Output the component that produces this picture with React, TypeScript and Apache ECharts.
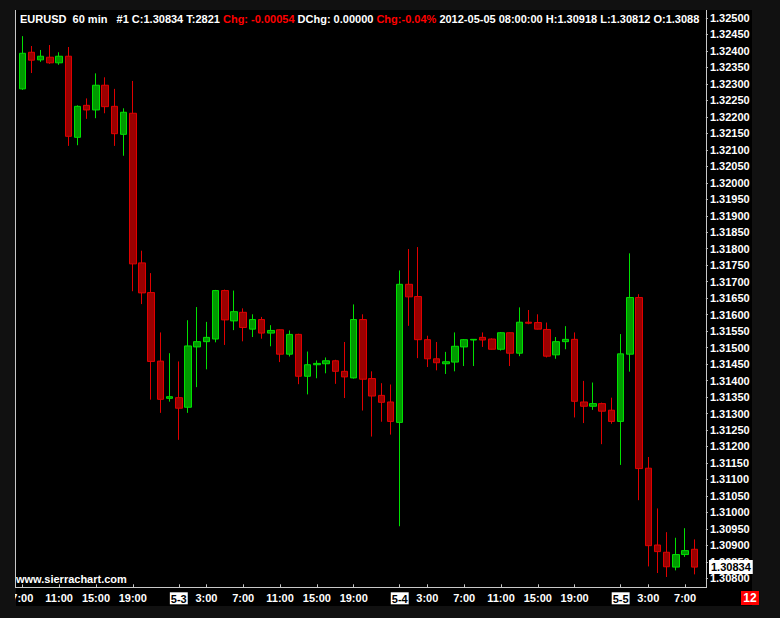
import { useEffect, useRef } from "react";
import * as echarts from "echarts";

const categories = [
  "5-2 7:00", "5-2 8:00", "5-2 9:00", "5-2 10:00", "5-2 11:00", "5-2 12:00", "5-2 13:00", "5-2 14:00",
  "5-2 15:00", "5-2 16:00", "5-2 17:00", "5-2 18:00", "5-2 19:00", "5-2 20:00", "5-2 21:00", "5-2 22:00",
  "5-2 23:00",
  "5-3 0:00", "5-3 1:00", "5-3 2:00", "5-3 3:00", "5-3 4:00", "5-3 5:00", "5-3 6:00", "5-3 7:00",
  "5-3 8:00", "5-3 9:00", "5-3 10:00", "5-3 11:00", "5-3 12:00", "5-3 13:00", "5-3 14:00", "5-3 15:00",
  "5-3 16:00", "5-3 17:00", "5-3 18:00", "5-3 19:00", "5-3 20:00", "5-3 21:00", "5-3 22:00", "5-3 23:00",
  "5-4 0:00", "5-4 1:00", "5-4 2:00", "5-4 3:00", "5-4 4:00", "5-4 5:00", "5-4 6:00", "5-4 7:00",
  "5-4 8:00", "5-4 9:00", "5-4 10:00", "5-4 11:00", "5-4 12:00", "5-4 13:00", "5-4 14:00", "5-4 15:00",
  "5-4 16:00", "5-4 17:00", "5-4 18:00", "5-4 19:00", "5-4 20:00", "5-4 21:00", "5-4 22:00", "5-4 23:00",
  "5-5 0:00", "5-5 1:00", "5-5 2:00", "5-5 3:00", "5-5 4:00", "5-5 5:00", "5-5 6:00", "5-5 7:00",
  "5-5 8:00",
];

const opens = [
  1.32285, 1.32396, 1.32373, 1.32381, 1.32364, 1.32384, 1.32138, 1.32235, 1.32221, 1.32296,
  1.32232, 1.32147, 1.32211, 1.31757, 1.31667, 1.31459, 1.31346, 1.31348, 1.31319, 1.31502,
  1.31518, 1.31526, 1.31673, 1.31581, 1.31607, 1.31556, 1.31585, 1.31544, 1.31554, 1.3148,
  1.3154, 1.31413, 1.31448, 1.31451, 1.3146, 1.31428, 1.31408, 1.31585, 1.31406, 1.31355,
  1.31335, 1.31273, 1.31692, 1.31655, 1.31524, 1.31466, 1.31451, 1.31456, 1.31502, 1.31523,
  1.31531, 1.31526, 1.31495, 1.31545, 1.31483, 1.31577, 1.31576, 1.31555, 1.31478, 1.31518,
  1.31525, 1.31335, 1.31322, 1.3133, 1.3131, 1.31276, 1.3148, 1.31652, 1.31134, 1.30901,
  1.30879, 1.30834, 1.30872, 1.30888,
];
const closes = [
  1.32393, 1.32372, 1.32384, 1.32364, 1.32384, 1.32141, 1.32232, 1.32221, 1.32296, 1.32231,
  1.32149, 1.32214, 1.31754, 1.31666, 1.31458, 1.31343, 1.31351, 1.31316, 1.31505, 1.31518,
  1.31531, 1.31673, 1.31584, 1.31609, 1.31561, 1.31585, 1.31544, 1.31552, 1.3148, 1.3154,
  1.31413, 1.31448, 1.31452, 1.3146, 1.31428, 1.31411, 1.31585, 1.31404, 1.31353, 1.31334,
  1.31276, 1.31692, 1.31654, 1.31524, 1.31466, 1.31454, 1.31457, 1.31504, 1.31524, 1.31525,
  1.31523, 1.31495, 1.31545, 1.31483, 1.31577, 1.31574, 1.31556, 1.31474, 1.31518, 1.31525,
  1.31337, 1.31322, 1.3133, 1.31307, 1.31276, 1.31481, 1.31652, 1.31133, 1.30899, 1.30881,
  1.30835, 1.30872, 1.30884, 1.30834,
];
const lows = [
  1.32282, 1.32333, 1.32367, 1.32361, 1.32358, 1.32112, 1.32114, 1.32194, 1.32196, 1.32211,
  1.32112, 1.32082, 1.31671, 1.31632, 1.31342, 1.31302, 1.31336, 1.3122, 1.31302, 1.3138,
  1.31434, 1.31516, 1.31508, 1.31553, 1.31519, 1.31532, 1.31527, 1.31504, 1.31456, 1.31473,
  1.31389, 1.31358, 1.31407, 1.31422, 1.3139, 1.31347, 1.31406, 1.31309, 1.3123, 1.31275,
  1.31236, 1.30958, 1.31566, 1.31468, 1.31441, 1.31431, 1.3142, 1.31428, 1.31444, 1.31444,
  1.31502, 1.31494, 1.31491, 1.31444, 1.31474, 1.31571, 1.31555, 1.3147, 1.31466, 1.31495,
  1.31288, 1.31271, 1.31311, 1.31207, 1.31269, 1.31144, 1.31427, 1.31037, 1.30836, 1.30816,
  1.30804, 1.30824, 1.30865, 1.30812,
];
const highs = [
  1.32445, 1.32415, 1.32403, 1.32418, 1.32396, 1.32412, 1.32235, 1.32256, 1.32332, 1.3232,
  1.32285, 1.32226, 1.32309, 1.31794, 1.31726, 1.31546, 1.31483, 1.31458, 1.31583, 1.31623,
  1.31578, 1.31675, 1.31676, 1.31673, 1.31619, 1.31601, 1.31593, 1.31568, 1.31555, 1.31552,
  1.31542, 1.31488, 1.31461, 1.3147, 1.31463, 1.31517, 1.31631, 1.31601, 1.31428, 1.31392,
  1.31388, 1.31734, 1.31799, 1.31805, 1.31536, 1.31517, 1.31487, 1.31546, 1.31526, 1.31526,
  1.31546, 1.31528, 1.31547, 1.31546, 1.31622, 1.31614, 1.31601, 1.31576, 1.31532, 1.31565,
  1.31546, 1.31399, 1.31394, 1.31333, 1.31348, 1.31541, 1.31786, 1.31662, 1.31168, 1.31012,
  1.3094, 1.30923, 1.30952, 1.30918,
];

const lastPrice = 1.30834;
const yMin = 1.308;
const yMax = 1.325;
const yStep = 0.0005;

const FONT = '"Liberation Sans", Arial, sans-serif';

function hourOf(cat: string): number {
  const t = cat.split(" ")[1];
  return parseInt(t.split(":")[0], 10);
}
function showLabel(index: number): boolean {
  const h = hourOf(categories[index]);
  return h === 0 || (h % 4 === 3 && h !== 23);
}

export default function App() {
  const ref = useRef<HTMLDivElement>(null);
  useEffect(() => {
    const chart = echarts.init(ref.current!, null, { renderer: "svg" });
    const data = opens.map((o, i) => [o, closes[i], lows[i], highs[i]]);
    const header =
      "{w|EURUSD  60 min   #1 C:1.30834 T:2821 }{r|Chg: -0.00054}{w| DChg: 0.00000 }{r|Chg:-0.04%}{w| 2012-05-05 08:00:00 H:1.30918 L:1.30812 O:1.3088}";
    const tok = { fontSize: 11, fontWeight: "bold", fontFamily: FONT };
    const baseGraphic: any[] = [
      { type: "rect", z: -10, shape: { x: 16, y: 10, width: 736, height: 596 }, style: { fill: "#000000" } },
      { type: "rect", z: 100, shape: { x: 0, y: 10, width: 15, height: 608 }, style: { fill: "#111111" } },
      { type: "line", z: 101, shape: { x1: 15.5, y1: 10, x2: 15.5, y2: 588 }, style: { stroke: "#c8c8c8", lineWidth: 1 } },
      { type: "line", z: 101, shape: { x1: 706.5, y1: 10, x2: 706.5, y2: 588 }, style: { stroke: "#c8c8c8", lineWidth: 1 } },
      { type: "line", z: 101, shape: { x1: 15, y1: 587.5, x2: 707, y2: 587.5 }, style: { stroke: "#c8c8c8", lineWidth: 1 } },
      {
        type: "text",
        z: 50,
        x: 20,
        y: 19,
        style: {
          text: header,
          fill: "#ffffff",
          ...tok,
          verticalAlign: "middle",
          textVerticalAlign: "middle",
          rich: {
            w: { fill: "#ffffff", ...tok },
            r: { fill: "#ff0000", ...tok },
          },
        },
      },
      {
        type: "text",
        z: 50,
        x: 16,
        y: 579,
        style: {
          text: "www.sierrachart.com",
          fill: "#ffffff",
          ...tok,
          verticalAlign: "middle",
          textVerticalAlign: "middle",
        },
      },
      { type: "rect", z: 50, shape: { x: 741, y: 591, width: 18, height: 14 }, style: { fill: "#ff0000" } },
      {
        type: "text",
        z: 51,
        x: 750,
        y: 598,
        style: {
          text: "12",
          fill: "#ffffff",
          ...tok,
          fontSize: 12,
          align: "center",
          textAlign: "center",
          verticalAlign: "middle",
          textVerticalAlign: "middle",
        },
      },
    ];
    chart.setOption({
      animation: false,
      backgroundColor: "#111111",
      grid: { left: 17.7, right: 81.1, top: 18, bottom: 39.7 },
      xAxis: {
        type: "category",
        data: categories,
        boundaryGap: true,
        offset: 9,
        axisLine: { show: false },
        axisTick: {
          show: true,
          inside: true,
          length: 3,
          alignWithLabel: true,
          interval: (i: number) => showLabel(i),
          lineStyle: { color: "#c8c8c8" },
        },
        axisLabel: {
          interval: (i: number) => showLabel(i),
          color: "#ffffff",
          fontSize: 11,
          fontWeight: "bold",
          fontFamily: FONT,
          margin: 5,
          formatter: (v: string) => {
            const [d, t] = v.split(" ");
            if (hourOf(v) === 0) return "{d|" + d + "}";
            return t;
          },
          rich: {
            d: {
              backgroundColor: "#ffffff",
              color: "#000000",
              fontSize: 11,
              fontWeight: "bold",
              fontFamily: FONT,
              padding: [1, 1, 0, 1],
            },
          },
        },
        splitLine: { show: false },
      },
      yAxis: {
        type: "value",
        position: "right",
        min: yMin,
        max: yMax,
        interval: yStep,
        offset: 7,
        axisLine: { show: false },
        axisTick: { show: true, length: 2, lineStyle: { color: "#c8c8c8" } },
        axisLabel: {
          color: "#ffffff",
          fontSize: 11,
          fontWeight: "bold",
          fontFamily: FONT,
          margin: 4,
          formatter: (v: number) => v.toFixed(5),
        },
        splitLine: { show: false },
      },
      series: [
        {
          type: "candlestick",
          data,
          barWidth: 7,
          itemStyle: {
            color: "#009a00",
            color0: "#9a0000",
            borderColor: "#00e000",
            borderColor0: "#e00000",
            borderWidth: 1,
          },
        },
      ],
      graphic: baseGraphic,
    });
    const py = chart.convertToPixel({ yAxisIndex: 0 }, lastPrice) as number;
    chart.setOption({
      graphic: [
        ...baseGraphic,
        {
          type: "text",
          z: 60,
          x: 709,
          y: py,
          style: {
            text: lastPrice.toFixed(5),
            fill: "#000000",
            ...tok,
            backgroundColor: "#ffffff",
            padding: [2, 2, 1, 2],
            verticalAlign: "middle",
            textVerticalAlign: "middle",
          },
        },
      ],
    });
    return () => chart.dispose();
  }, []);
  return <div ref={ref} style={{ position: "fixed", left: 0, top: 0, width: 780, height: 618 }} />;
}
